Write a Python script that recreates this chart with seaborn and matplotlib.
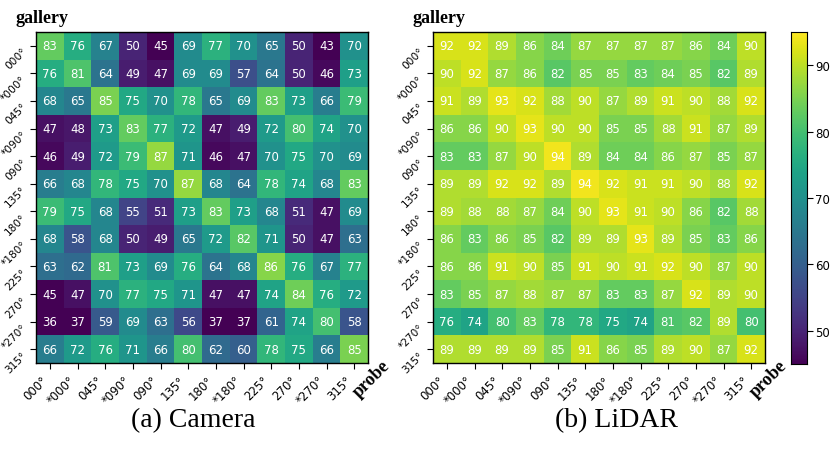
import numpy as np
import matplotlib
matplotlib.use('Agg')
import matplotlib.pyplot as plt
import seaborn as sns

# view labels (gallery rows / probe columns)
views = ['000°', '*000°', '045°', '*090°', '090°', '135°',
         '180°', '*180°', '225°', '270°', '*270°', '315°']

camera = [
    [83, 76, 67, 50, 45, 69, 77, 70, 65, 50, 43, 70],
    [76, 81, 64, 49, 47, 69, 69, 57, 64, 50, 46, 73],
    [68, 65, 85, 75, 70, 78, 65, 69, 83, 73, 66, 79],
    [47, 48, 73, 83, 77, 72, 47, 49, 72, 80, 74, 70],
    [46, 49, 72, 79, 87, 71, 46, 47, 70, 75, 70, 69],
    [66, 68, 78, 75, 70, 87, 68, 64, 78, 74, 68, 83],
    [79, 75, 68, 55, 51, 73, 83, 73, 68, 51, 47, 69],
    [68, 58, 68, 50, 49, 65, 72, 82, 71, 50, 47, 63],
    [63, 62, 81, 73, 69, 76, 64, 68, 86, 76, 67, 77],
    [45, 47, 70, 77, 75, 71, 47, 47, 74, 84, 76, 72],
    [36, 37, 59, 69, 63, 56, 37, 37, 61, 74, 80, 58],
    [66, 72, 76, 71, 66, 80, 62, 60, 78, 75, 66, 85],
]

lidar = [
    [92, 92, 89, 86, 84, 87, 87, 87, 87, 86, 84, 90],
    [90, 92, 87, 86, 82, 85, 85, 83, 84, 85, 82, 89],
    [91, 89, 93, 92, 88, 90, 87, 89, 91, 90, 88, 92],
    [86, 86, 90, 93, 90, 90, 85, 85, 88, 91, 87, 89],
    [83, 83, 87, 90, 94, 89, 84, 84, 86, 87, 85, 87],
    [89, 89, 92, 92, 89, 94, 92, 91, 91, 90, 88, 92],
    [89, 88, 88, 87, 84, 90, 93, 91, 90, 86, 82, 88],
    [86, 83, 86, 85, 82, 89, 89, 93, 89, 85, 83, 86],
    [86, 86, 91, 90, 85, 91, 90, 91, 92, 90, 87, 90],
    [83, 85, 87, 88, 87, 87, 83, 83, 87, 92, 89, 90],
    [76, 74, 80, 83, 78, 78, 75, 74, 81, 82, 89, 80],
    [89, 89, 89, 89, 85, 91, 86, 85, 89, 90, 87, 92],
]

W, H = 830, 452
fig = plt.figure(figsize=(W / 100, H / 100), dpi=100)

def px(x0, y0, x1, y1):
    return [x0 / W, 1 - y1 / H, (x1 - x0) / W, (y1 - y0) / H]

ax_cam = fig.add_axes(px(36, 33, 368, 364))
ax_lid = fig.add_axes(px(433, 33, 765, 364))
cax = fig.add_axes(px(791, 33, 807, 365))

def draw(ax, data, cbar_ax=None):
    sns.heatmap(np.array(data), ax=ax, cmap='viridis', vmin=45, vmax=95,
                annot=True, fmt='d', annot_kws={'color': 'white', 'fontsize': 8.5},
                cbar=cbar_ax is not None, cbar_ax=cbar_ax,
                xticklabels=views, yticklabels=views, square=False)
    for s in ax.spines.values():
        s.set_visible(True)
        s.set_color('black')
        s.set_linewidth(1.0)
    ax.tick_params(axis='x', length=4, labelsize=8.5, pad=3)
    ax.tick_params(axis='y', length=4, labelsize=7.6, pad=1.5)
    ax.set_xticklabels(views, rotation=45, ha='right', va='top')
    ax.set_yticklabels(views, rotation=45, ha='right', va='top')
    ax.text(-0.063, 1.018, 'gallery', transform=ax.transAxes, family='Liberation Serif',
            fontweight='bold', fontsize=13, ha='left', va='bottom')
    ax.text(1.01, -0.045, 'probe', transform=ax.transAxes, family='Liberation Serif',
            fontweight='bold', fontsize=13, rotation=45, ha='center', va='center')

draw(ax_cam, camera)
draw(ax_lid, lidar, cbar_ax=cax)
cax.set_yticks([50, 60, 70, 80, 90])
cax.tick_params(labelsize=8.5, length=4, pad=2)
for s in cax.spines.values():
    s.set_visible(True)
    s.set_color('black')

# subfigure captions
fig.text(193 / W, 1 - 421 / H, '(a) Camera', family='Liberation Serif',
         fontsize=20, ha='center', va='center')
fig.text(616 / W, 1 - 421 / H, '(b) LiDAR', family='Liberation Serif',
         fontsize=20, ha='center', va='center')

fig.savefig('out.png', dpi=100)
